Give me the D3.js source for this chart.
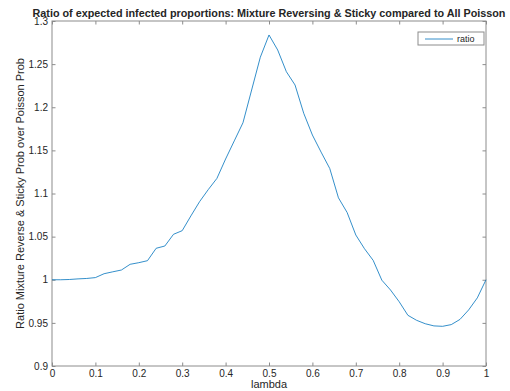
<!DOCTYPE html>
<html>
<head>
<meta charset="utf-8">
<script src="https://cdn.jsdelivr.net/npm/d3@7"></script>
<style>
  body { margin: 0; background: #fff; }
  text { font-family: "Liberation Sans", Arial, sans-serif; fill: #262626; }
</style>
</head>
<body>
<div id="chart-area"></div>
<script>
// lambda sampled every 0.02
const lambda = d3.range(0, 51).map(i => +(i * 0.02).toFixed(2));
const ratio = [
    1.000, 1.000, 1.0003, 1.001, 1.0015, 1.0025, 1.0070, 1.0092, 1.0113, 1.0179,
    1.0198, 1.0221, 1.0365, 1.0391, 1.0527, 1.0569, 1.0740, 1.0905, 1.1045, 1.1175,
    1.1400, 1.1610, 1.1820, 1.2200, 1.2580, 1.2838, 1.2664, 1.2412, 1.2258, 1.1930,
    1.1678, 1.1480, 1.1290, 1.0950, 1.0780, 1.0519, 1.0360, 1.0225, 0.9995, 0.9881,
    0.9745, 0.9588, 0.9530, 0.9490, 0.9465, 0.9460, 0.9480, 0.9540, 0.9650, 0.9790,
    1.0000
];
const xTicks = [0, 0.1, 0.2, 0.3, 0.4, 0.5, 0.6, 0.7, 0.8, 0.9, 1];
const yTicks = [0.9, 0.95, 1, 1.05, 1.1, 1.15, 1.2, 1.25, 1.3];

const margin = {left: 52, right: 24, top: 21, bottom: 25};
const W = 510, H = 391;
const width = W - margin.left - margin.right,
    height = H - margin.top - margin.bottom;

const svg = d3.select('#chart-area')
    .append('svg')
    .attr('width', W)
    .attr('height', H);

const g = svg.append('g')
    .attr('transform', 'translate(' + margin.left + ', ' + margin.top + ')');

const xScale = d3.scaleLinear().domain([0, 1]).range([0, width]);
const yScale = d3.scaleLinear().domain([0.9, 1.3]).range([height, 0]);

const axisColor = '#8c8c8c';
const tickLen = 3.5;

// box
g.append('rect')
    .attr('width', width)
    .attr('height', height)
    .attr('fill', 'none')
    .attr('stroke', axisColor)
    .attr('stroke-width', 1);

// inward ticks on all four sides
const styleAxis = sel => {
    sel.select('.domain').remove();
    sel.selectAll('.tick line').attr('stroke', axisColor);
    sel.selectAll('.tick text')
        .attr('font-size', '10px')
        .attr('fill', '#262626');
};

g.append('g')
    .attr('transform', 'translate(0, ' + height + ')')
    .call(d3.axisBottom(xScale).tickValues(xTicks).tickSizeInner(-tickLen).tickPadding(4).tickFormat(d => d3.format('')(d)))
    .call(styleAxis);

g.append('g')
    .call(d3.axisTop(xScale).tickValues(xTicks).tickSizeInner(-tickLen).tickFormat(''))
    .call(styleAxis);

g.append('g')
    .call(d3.axisLeft(yScale).tickValues(yTicks).tickSizeInner(-tickLen).tickPadding(4).tickFormat(d => d3.format('')(d)))
    .call(styleAxis);

g.append('g')
    .attr('transform', 'translate(' + width + ', 0)')
    .call(d3.axisRight(yScale).tickValues(yTicks).tickSizeInner(-tickLen).tickFormat(''))
    .call(styleAxis);

// curve
const line = d3.line()
    .x((d, i) => xScale(lambda[i]))
    .y(d => yScale(d));

g.append('path')
    .datum(ratio)
    .attr('fill', 'none')
    .attr('stroke', '#0072BD')
    .attr('stroke-width', 0.8)
    .attr('d', line);

// title
svg.append('text')
    .text('Ratio of expected infected proportions: Mixture Reversing & Sticky compared to All Poisson')
    .attr('x', margin.left + width / 2)
    .attr('y', 16.5)
    .attr('text-anchor', 'middle')
    .attr('font-size', '10.8px')
    .attr('font-weight', 'bold')
    .attr('fill', '#000');

// axis labels
svg.append('text')
    .text('lambda')
    .attr('x', margin.left + width / 2)
    .attr('y', 388)
    .attr('text-anchor', 'middle')
    .attr('font-size', '11px');

svg.append('text')
    .text('Ratio Mixture Reverse & Sticky Prob over Poisson Prob')
    .attr('transform', 'translate(23.5, ' + (margin.top + height / 2) + ') rotate(-90)')
    .attr('text-anchor', 'middle')
    .attr('font-size', '11px');

// legend
const legend = svg.append('g')
    .attr('transform', 'translate(418, 32)');

legend.append('rect')
    .attr('width', 66)
    .attr('height', 13)
    .attr('fill', '#fff')
    .attr('stroke', axisColor)
    .attr('stroke-width', 1);

legend.append('line')
    .attr('x1', 7).attr('x2', 35)
    .attr('y1', 7).attr('y2', 7)
    .attr('stroke', '#0072BD')
    .attr('stroke-width', 0.8);

legend.append('text')
    .text('ratio')
    .attr('x', 39)
    .attr('y', 10)
    .attr('font-size', '9px');
</script>
</body>
</html>
